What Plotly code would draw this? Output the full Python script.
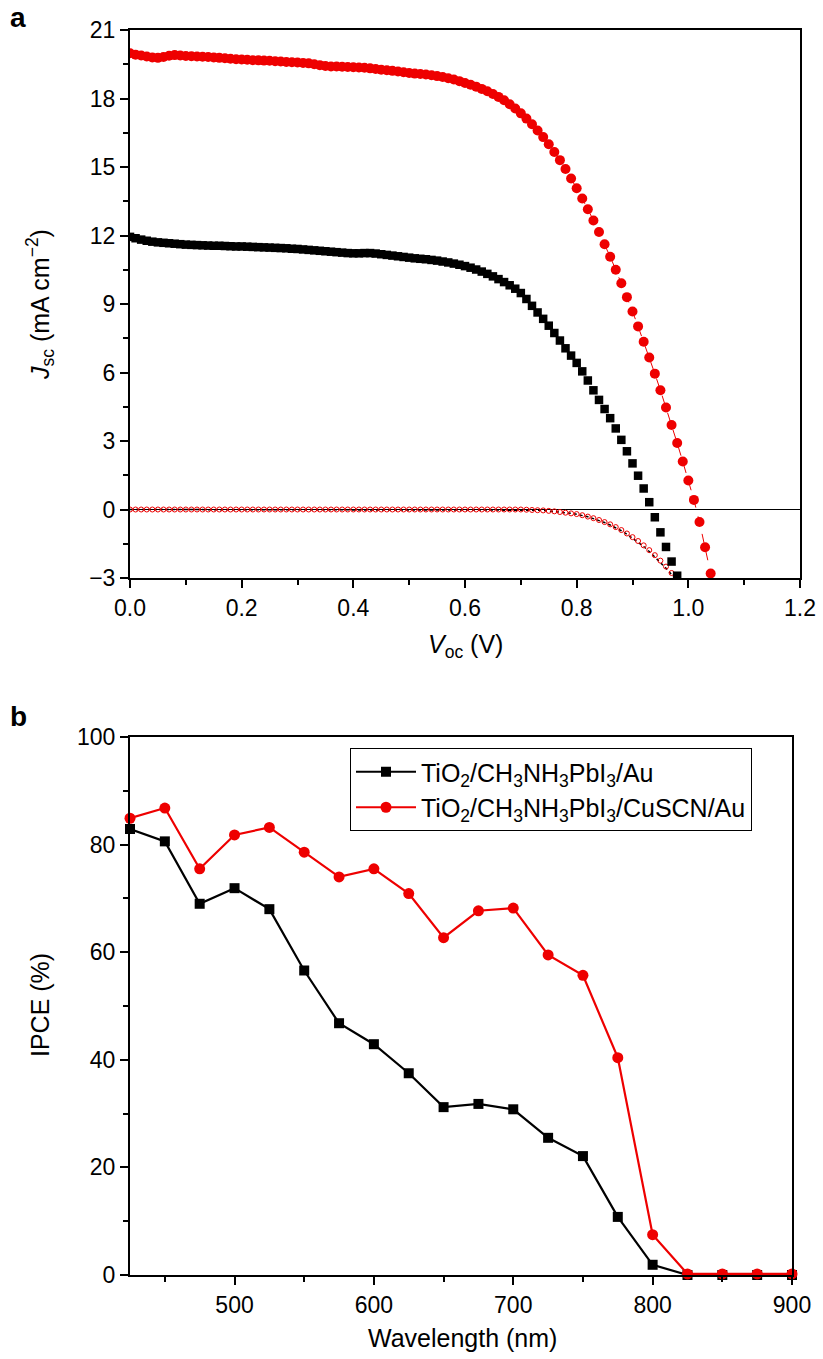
import plotly.graph_objects as go

W, H = 823, 1359

# ---------------- Panel a data (J-V) ----------------
voltage = [0.00, 0.01, 0.02, 0.03, 0.04, 0.05, 0.06, 0.07, 0.08, 0.09,
           0.10, 0.11, 0.12, 0.13, 0.14, 0.15, 0.16, 0.17, 0.18, 0.19,
           0.20, 0.21, 0.22, 0.23, 0.24, 0.25, 0.26, 0.27, 0.28, 0.29,
           0.30, 0.31, 0.32, 0.33, 0.34, 0.35, 0.36, 0.37, 0.38, 0.39,
           0.40, 0.41, 0.42, 0.43, 0.44, 0.45, 0.46, 0.47, 0.48, 0.49,
           0.50, 0.51, 0.52, 0.53, 0.54, 0.55, 0.56, 0.57, 0.58, 0.59,
           0.60, 0.61, 0.62, 0.63, 0.64, 0.65, 0.66, 0.67, 0.68, 0.69,
           0.70, 0.71, 0.72, 0.73, 0.74, 0.75, 0.76, 0.77, 0.78, 0.79,
           0.80, 0.81, 0.82, 0.83, 0.84, 0.85, 0.86, 0.87, 0.88, 0.89,
           0.90, 0.91, 0.92, 0.93, 0.94, 0.95, 0.96, 0.97, 0.98, 0.99,
           1.00, 1.01, 1.02, 1.03, 1.04]

j_cuscn_light = [19.98, 19.92, 19.88, 19.84, 19.80, 19.78, 19.82, 19.87, 19.90, 19.88,
                 19.86, 19.85, 19.84, 19.83, 19.82, 19.80, 19.78, 19.76, 19.74, 19.72,
                 19.71, 19.70, 19.68, 19.67, 19.66, 19.65, 19.63, 19.62, 19.60, 19.59,
                 19.58, 19.56, 19.54, 19.50, 19.46, 19.42, 19.40, 19.40, 19.39, 19.38,
                 19.37, 19.36, 19.35, 19.32, 19.29, 19.26, 19.24, 19.21, 19.18, 19.15,
                 19.12, 19.09, 19.07, 19.05, 19.02, 18.98, 18.94, 18.89, 18.83, 18.76,
                 18.68, 18.60, 18.52, 18.42, 18.32, 18.20, 18.07, 17.92, 17.75, 17.56,
                 17.35, 17.12, 16.87, 16.60, 16.31, 16.00, 15.66, 15.30, 14.91, 14.50,
                 14.07, 13.62, 13.15, 12.66, 12.15, 11.62, 11.07, 10.50, 9.91, 9.30,
                 8.67, 8.02, 7.35, 6.66, 5.95, 5.22, 4.47, 3.70, 2.91, 2.10,
                 1.27, 0.42, -0.55, -1.65, -2.80]

j_au_light = [11.94, 11.88, 11.82, 11.77, 11.73, 11.70, 11.68, 11.66, 11.64, 11.62,
              11.60, 11.59, 11.58, 11.57, 11.56, 11.55, 11.55, 11.54, 11.53, 11.52,
              11.52, 11.51, 11.50, 11.49, 11.48, 11.47, 11.46, 11.45, 11.44, 11.42,
              11.41, 11.39, 11.37, 11.35, 11.33, 11.31, 11.29, 11.27, 11.25, 11.23,
              11.22, 11.22, 11.23, 11.23, 11.21, 11.18, 11.15, 11.12, 11.09, 11.06,
              11.03, 11.00, 10.98, 10.96, 10.93, 10.90, 10.86, 10.82, 10.77, 10.72,
              10.66, 10.59, 10.51, 10.42, 10.32, 10.21, 10.09, 9.96, 9.82, 9.67,
              9.48, 9.22, 8.92, 8.63, 8.35, 8.05, 7.73, 7.40, 7.06, 6.74,
              6.42, 6.05, 5.65, 5.22, 4.80, 4.40, 4.00, 3.55, 3.05, 2.55,
              2.02, 1.48, 0.92, 0.32, -0.34, -1.00, -1.64, -2.28, -2.90]

j_cuscn_dark = [0.00, 0.00, 0.00, 0.00, 0.00, 0.00, 0.00, 0.00, 0.00, 0.00,
                0.00, 0.00, 0.00, 0.00, 0.00, 0.00, 0.00, 0.00, 0.00, 0.00,
                0.00, 0.00, 0.00, 0.00, 0.00, 0.00, 0.00, 0.00, 0.00, 0.00,
                0.00, 0.00, 0.00, 0.00, 0.00, 0.00, 0.00, 0.00, 0.00, 0.00,
                0.00, 0.00, 0.00, 0.00, 0.00, 0.00, 0.00, 0.00, 0.00, 0.00,
                0.00, 0.00, 0.00, 0.00, 0.00, 0.00, 0.00, 0.00, 0.00, 0.00,
                0.00, 0.00, 0.00, 0.00, 0.00, 0.00, 0.00, 0.00, 0.00, 0.00,
                0.00, -0.01, -0.02, -0.03, -0.04, -0.06, -0.08, -0.11, -0.14, -0.17,
                -0.20, -0.25, -0.31, -0.38, -0.46, -0.55, -0.65, -0.77, -0.90, -1.05,
                -1.21, -1.38, -1.57, -1.78, -2.00, -2.24, -2.50, -2.78, -3.07]

j_au_dark = [0.00, 0.00, 0.00, 0.00, 0.00, 0.00, 0.00, 0.00, 0.00, 0.00,
             0.00, 0.00, 0.00, 0.00, 0.00, 0.00, 0.00, 0.00, 0.00, 0.00,
             0.00, 0.00, 0.00, 0.00, 0.00, 0.00, 0.00, 0.00, 0.00, 0.00,
             0.00, 0.00, 0.00, 0.00, 0.00, 0.00, 0.00, 0.00, 0.00, 0.00,
             0.00, 0.00, 0.00, 0.00, 0.00, 0.00, 0.00, 0.00, 0.00, 0.00,
             0.00, 0.00, 0.00, 0.00, 0.00, 0.00, 0.00, 0.00, 0.00, 0.00,
             0.00, 0.00, 0.00, 0.00, 0.00, 0.00, 0.00, 0.00, 0.00, 0.00,
             0.00, -0.01, -0.02, -0.03, -0.04, -0.06, -0.08, -0.11, -0.14, -0.17,
             -0.21, -0.26, -0.32, -0.40, -0.48, -0.57, -0.68, -0.80, -0.93, -1.08,
             -1.25, -1.43, -1.62, -1.84, -2.07, -2.31, -2.57, -2.85, -3.10]

# ---------------- Panel b data (IPCE) ----------------
wavelength = [425, 450, 475, 500, 525, 550, 575, 600, 625, 650,
              675, 700, 725, 750, 775, 800, 825, 850, 875, 900]
ipce_au = [82.9, 80.6, 69.0, 71.9, 68.0, 56.6, 46.8, 42.9, 37.5, 31.2,
           31.8, 30.8, 25.5, 22.1, 10.8, 1.9, 0.0, 0.0, 0.0, 0.0]
ipce_cuscn = [84.9, 86.8, 75.5, 81.8, 83.2, 78.6, 74.0, 75.5, 70.9, 62.7,
              67.7, 68.2, 59.5, 55.7, 40.4, 7.5, 0.2, 0.2, 0.2, 0.2]

label_au = "TiO<sub>2</sub>/CH<sub>3</sub>NH<sub>3</sub>PbI<sub>3</sub>/Au"
label_cuscn = "TiO<sub>2</sub>/CH<sub>3</sub>NH<sub>3</sub>PbI<sub>3</sub>/CuSCN/Au"

RED = "#ee0000"
FONT = "Arial, Liberation Sans, sans-serif"
TICK_SIZE = 23
TITLE_SIZE = 25

fig = go.Figure()

# Panel a traces
fig.add_trace(go.Scatter(x=voltage[:len(j_au_dark)], y=j_au_dark, mode="lines",
                         line=dict(color="black", width=1.5, dash="dot"),
                         showlegend=False, xaxis="x", yaxis="y"))
fig.add_trace(go.Scatter(x=voltage[:len(j_cuscn_dark)], y=j_cuscn_dark, mode="markers",
                         marker=dict(symbol="circle-open", size=5, color=RED,
                                     line=dict(width=1, color=RED)),
                         showlegend=False, xaxis="x", yaxis="y"))
fig.add_trace(go.Scatter(x=voltage[:len(j_au_light)], y=j_au_light, mode="markers",
                         marker=dict(symbol="square", size=8.5, color="black"),
                         showlegend=False, xaxis="x", yaxis="y"))
fig.add_trace(go.Scatter(x=voltage, y=j_cuscn_light, mode="lines+markers",
                         line=dict(color=RED, width=1, dash="dash"),
                         marker=dict(symbol="circle", size=10, color=RED),
                         showlegend=False, xaxis="x", yaxis="y"))

# Panel b traces
fig.add_trace(go.Scatter(x=wavelength, y=ipce_au, mode="lines+markers", name=label_au,
                         line=dict(color="black", width=2.2),
                         marker=dict(symbol="square", size=10, color="black"),
                         cliponaxis=False, xaxis="x2", yaxis="y2"))
fig.add_trace(go.Scatter(x=wavelength, y=ipce_cuscn, mode="lines+markers", name=label_cuscn,
                         line=dict(color=RED, width=2.2),
                         marker=dict(symbol="circle", size=11, color=RED),
                         cliponaxis=False, xaxis="x2", yaxis="y2"))


def px_x(p):
    return p / W


def px_y(p):
    return 1 - p / H


axis_common = dict(showgrid=False, showline=True, linecolor="black", linewidth=2,
                   mirror=True, ticks="outside", ticklen=8, tickwidth=2, tickcolor="black",
                   tickfont=dict(family=FONT, size=TICK_SIZE, color="black"), automargin=False)

fig.update_layout(
    width=W, height=H,
    margin=dict(l=0, r=0, t=0, b=0),
    paper_bgcolor="white", plot_bgcolor="white",
    font=dict(family=FONT, color="black"),
    xaxis=dict(domain=[px_x(130), px_x(800)], range=[0, 1.2], dtick=0.2, tick0=0,
               tickformat=".1f", zeroline=False, anchor="y",
               minor=dict(dtick=0.1, ticks="outside", ticklen=5, tickwidth=1.5, tickcolor="black"),
               **axis_common),
    yaxis=dict(domain=[px_y(578), px_y(30)], range=[-3, 21], dtick=3, tick0=0,
               zeroline=True, zerolinecolor="black", zerolinewidth=1, anchor="x",
               minor=dict(dtick=1.5, ticks="outside", ticklen=5, tickwidth=1.5, tickcolor="black"),
               **axis_common),
    xaxis2=dict(domain=[px_x(130), px_x(792)], range=[425, 900], dtick=100, tick0=500,
                zeroline=False, anchor="y2",
                minor=dict(dtick=50, ticks="outside", ticklen=5, tickwidth=1.5, tickcolor="black"),
                **axis_common),
    yaxis2=dict(domain=[px_y(1275), px_y(737)], range=[0, 100], dtick=20, tick0=0,
                zeroline=False, anchor="x2",
                minor=dict(dtick=10, ticks="outside", ticklen=5, tickwidth=1.5, tickcolor="black"),
                **axis_common),
    legend=dict(x=px_x(350), y=px_y(748), xanchor="left", yanchor="top",
                bordercolor="black", borderwidth=1, bgcolor="white",
                font=dict(family=FONT, size=25, color="black"),
                itemwidth=60, tracegroupgap=0),
    showlegend=True,
)

annotations = [
    dict(text="<b>a</b>", x=px_x(18), y=px_y(18), xanchor="center", yanchor="middle",
         font=dict(size=28)),
    dict(text="<b>b</b>", x=px_x(18), y=px_y(716), xanchor="center", yanchor="middle",
         font=dict(size=28)),
    dict(text="<i>J</i><sub>sc</sub> (mA cm<sup>\u22122</sup>)", x=px_x(40), y=px_y(305),
         textangle=-90, xanchor="center", yanchor="middle", font=dict(size=TITLE_SIZE)),
    dict(text="<i>V</i><sub>oc</sub> (V)", x=px_x(465), y=px_y(646),
         xanchor="center", yanchor="middle", font=dict(size=TITLE_SIZE)),
    dict(text="IPCE (%)", x=px_x(40), y=px_y(1005),
         textangle=-90, xanchor="center", yanchor="middle", font=dict(size=TITLE_SIZE)),
    dict(text="Wavelength (nm)", x=px_x(462), y=px_y(1338),
         xanchor="center", yanchor="middle", font=dict(size=TITLE_SIZE)),
]
for a in annotations:
    a.update(xref="paper", yref="paper", showarrow=False)
    a["font"].update(family=FONT, color="black")
fig.update_layout(annotations=annotations)

fig.write_html("out.html", config={"displayModeBar": False})

# remove the default browser page margin so the figure sits at (0, 0)
with open("out.html", "r", encoding="utf-8") as f:
    html = f.read()
html = html.replace("<head>", "<head><style>html,body{margin:0;padding:0;}</style>", 1)
with open("out.html", "w", encoding="utf-8") as f:
    f.write(html)
